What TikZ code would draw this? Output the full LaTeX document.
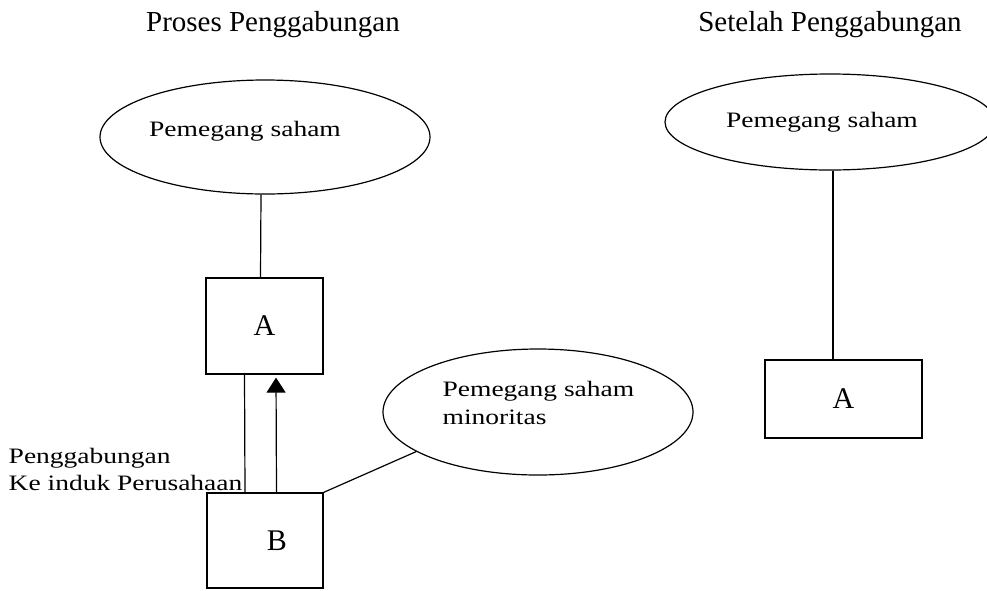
\documentclass[tikz,border=0pt]{standalone}
\usepackage{fontspec}
\setmainfont{Liberation Serif}
\newfontfamily\widefont[FakeStretch=1.25]{Liberation Serif}
\usetikzlibrary{shapes.geometric,arrows.meta}

\begin{document}
\begin{tikzpicture}[x=1pt,y=-1pt,line width=1.2pt,
	box/.style={draw,rectangle,inner sep=0pt,font=\fontsize{30}{30}\selectfont},
	blob/.style={draw,ellipse,inner sep=0pt},
	txt/.style={inner sep=0pt,font=\widefont\fontsize{22}{28.5}\selectfont},
	head/.style={inner sep=0pt,font=\fontsize{29}{29}\selectfont}]
		\path[use as bounding box,fill=white] (0,0) rectangle (987,590);
		% judul
		\node[head] (t1) at (273,25) {Proses Penggabungan};
		\node[head] (t2) at (830,25) {Setelah Penggabungan};
		% proses penggabungan
		\node[blob,minimum width=330pt,minimum height=114pt] (ps1) at (265,137) {};
		\node[txt] (ps1t) at (245,131) {Pemegang saham};
		\node[box,minimum width=117pt,minimum height=96pt] (a1) at (264.5,326) {A};
		\node[box,minimum width=116pt,minimum height=95pt] (b1) at (265,540.5) {\hspace*{24pt}B};
		\node[blob,minimum width=310pt,minimum height=126pt] (psm) at (538,412) {};
		\node[txt,anchor=west,align=left] (psmt) at (442,403) {Pemegang saham\\minoritas};
		\node[txt,anchor=south east,align=left,font=\widefont\fontsize{22}{27}\selectfont] (lbl) at (243,491) {Penggabungan\\Ke induk Perusahaan};
		\draw ([xshift=-4pt]ps1.south) -- ([xshift=-4pt]a1.north);
		\draw ([xshift=-20pt]a1.south) -- ([xshift=-20pt]b1.north);
		\draw[-{Triangle[length=15pt,width=19pt]},shorten >=3pt] ([xshift=11.5pt]b1.north) -- ([xshift=11.5pt]a1.south);
		\draw (b1.north east) -- (psm.198);
		% setelah penggabungan
		\node[blob,minimum width=330pt,minimum height=96pt] (ps2) at (830,122) {};
		\node[txt] (ps2t) at (822,122) {Pemegang saham};
		\node[box,minimum width=157pt,minimum height=78pt] (a2) at (843.5,399) {A};
		\draw ([xshift=3pt]ps2.south) -- ([xshift=-10.5pt]a2.north);
\end{tikzpicture}
\end{document}
